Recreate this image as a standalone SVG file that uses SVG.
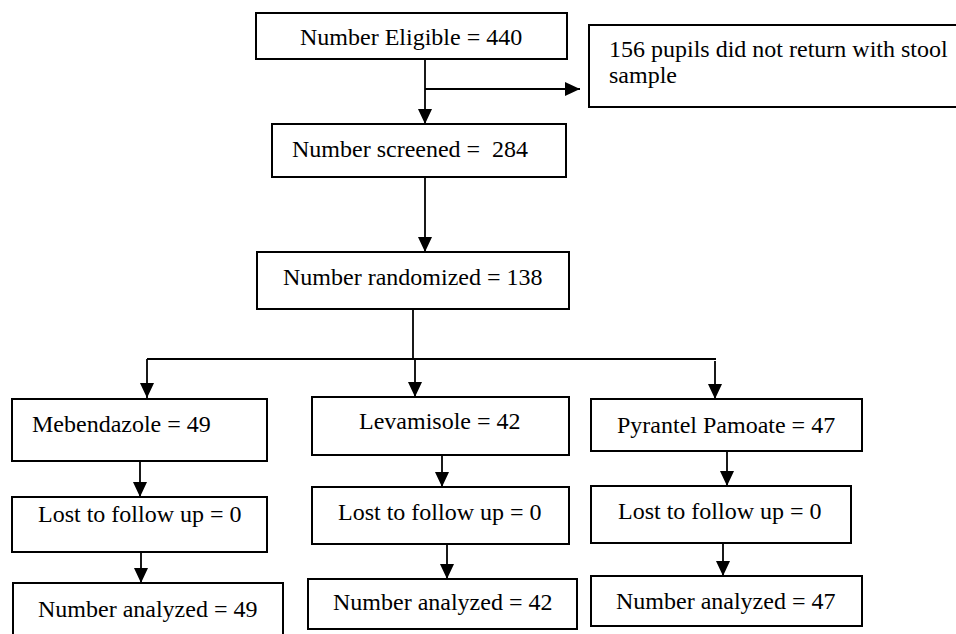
<svg xmlns="http://www.w3.org/2000/svg" width="956" height="634" viewBox="0 0 956 634">
<style>
  .box { fill: #ffffff; stroke: #000000; stroke-width: 2; }
  .lbl { font-family: "Liberation Serif", "Times New Roman", serif; font-size: 24px; fill: #000000; }
  .con { fill: none; stroke: #000000; stroke-width: 1.8; }
  .arr { marker-end: url(#head); }
</style>
<defs>
  <marker id="head" viewBox="0 0 15 14" markerWidth="15" markerHeight="14" refX="15" refY="7" orient="auto" markerUnits="userSpaceOnUse">
    <path d="M0,0 L15,7 L0,14 z" fill="#000000"/>
  </marker>
</defs>
<rect width="956" height="634" fill="#ffffff"/>
<g id="connectors">
  <path class="con arr" d="M425,59 V124"/>
  <path class="con arr" d="M425,89 H580"/>
  <path class="con arr" d="M425,177 V252"/>
  <path class="con" d="M413,309 V359"/>
  <path class="con" d="M147,359 H716"/>
  <path class="con arr" d="M147,359 V398"/>
  <path class="con arr" d="M415,359 V397"/>
  <path class="con arr" d="M715,361 V399"/>
  <path class="con arr" d="M140,461 V497"/>
  <path class="con arr" d="M141,552 V583"/>
  <path class="con arr" d="M442,455 V487"/>
  <path class="con arr" d="M447,544 V579"/>
  <path class="con arr" d="M727,451 V486"/>
  <path class="con arr" d="M723,543 V576"/>
</g>
<g id="eligible">
  <rect class="box" x="256" y="13" width="311" height="46"/>
  <text class="lbl" x="300" y="45">Number Eligible = 440</text>
</g>
<g id="excluded">
  <rect class="box" x="589" y="25" width="380" height="82"/>
  <text class="lbl" x="609" y="57">156 pupils did not return with stool</text>
  <text class="lbl" x="609" y="83">sample</text>
</g>
<g id="screened">
  <rect class="box" x="272" y="124" width="294" height="53"/>
  <text class="lbl" x="292" y="157">Number screened =&#160; 284</text>
</g>
<g id="randomized">
  <rect class="box" x="257" y="252" width="312" height="57"/>
  <text class="lbl" x="283" y="285">Number randomized = 138</text>
</g>
<g id="mebendazole">
  <rect class="box" x="12" y="399" width="255" height="62"/>
  <text class="lbl" x="32" y="432">Mebendazole = 49</text>
</g>
<g id="lost-mebendazole">
  <rect class="box" x="12" y="497" width="255" height="55"/>
  <text class="lbl" x="38" y="522">Lost to follow up = 0</text>
</g>
<g id="analyzed-mebendazole">
  <rect class="box" x="13" y="583" width="270" height="60"/>
  <text class="lbl" x="38" y="617">Number analyzed = 49</text>
</g>
<g id="levamisole">
  <rect class="box" x="312" y="397" width="257" height="58"/>
  <text class="lbl" x="359" y="429">Levamisole = 42</text>
</g>
<g id="lost-levamisole">
  <rect class="box" x="312" y="487" width="257" height="57"/>
  <text class="lbl" x="338" y="520">Lost to follow up = 0</text>
</g>
<g id="analyzed-levamisole">
  <rect class="box" x="308" y="579" width="269" height="50"/>
  <text class="lbl" x="333" y="610">Number analyzed = 42</text>
</g>
<g id="pyrantel">
  <rect class="box" x="591" y="399" width="271" height="52"/>
  <text class="lbl" x="617" y="433">Pyrantel Pamoate = 47</text>
</g>
<g id="lost-pyrantel">
  <rect class="box" x="591" y="486" width="260" height="57"/>
  <text class="lbl" x="618" y="519">Lost to follow up = 0</text>
</g>
<g id="analyzed-pyrantel">
  <rect class="box" x="591" y="576" width="271" height="50"/>
  <text class="lbl" x="616" y="609">Number analyzed = 47</text>
</g>
</svg>
